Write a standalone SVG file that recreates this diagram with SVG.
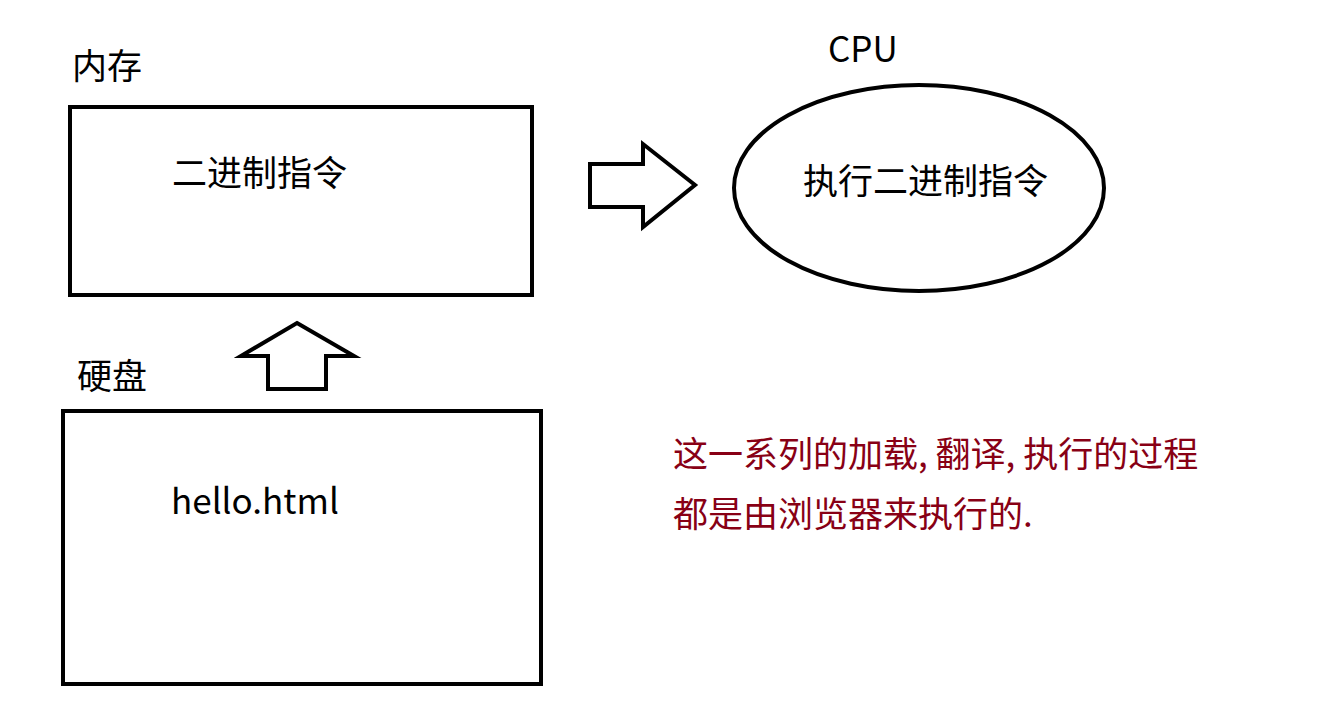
<svg xmlns="http://www.w3.org/2000/svg" width="1330" height="708" viewBox="0 0 1330 708">
<style>
.t{font-family:"Noto Sans CJK SC","Noto Sans",sans-serif;font-size:35px;fill:#000}
.r{fill:#880015}
.s{fill:#fff;stroke:#000;stroke-width:4}
</style>
<rect width="1330" height="708" fill="#fff"/>
<g id="memory">
<text class="t" x="72" y="79">内存</text>
<rect class="s" x="70" y="107" width="462" height="188"/>
<text class="t" x="172" y="186">二进制指令</text>
</g>
<g id="cpu">
<text class="t" x="828" y="62">CPU</text>
<ellipse class="s" cx="919" cy="188" rx="185" ry="103"/>
<text class="t" x="803" y="194">执行二进制指令</text>
</g>
<g id="disk">
<text class="t" x="77" y="389">硬盘</text>
<rect class="s" x="63" y="411" width="478" height="273"/>
<text class="t" x="171" y="514">hello.html</text>
</g>
<g id="connectors">
<polygon class="s" stroke-linejoin="miter" points="590,164 643,164 643,144 695,185 643,227 643,207 590,207"/>
<polygon class="s" stroke-linejoin="miter" points="297,323 354,356 326,356 326,389 268,389 268,356 241,356"/>
</g>
<g id="note">
<text class="t r" x="673" y="467">这一系列的加载, 翻译, 执行的过程</text>
<text class="t r" x="673" y="527">都是由浏览器来执行的.</text>
</g>
</svg>
